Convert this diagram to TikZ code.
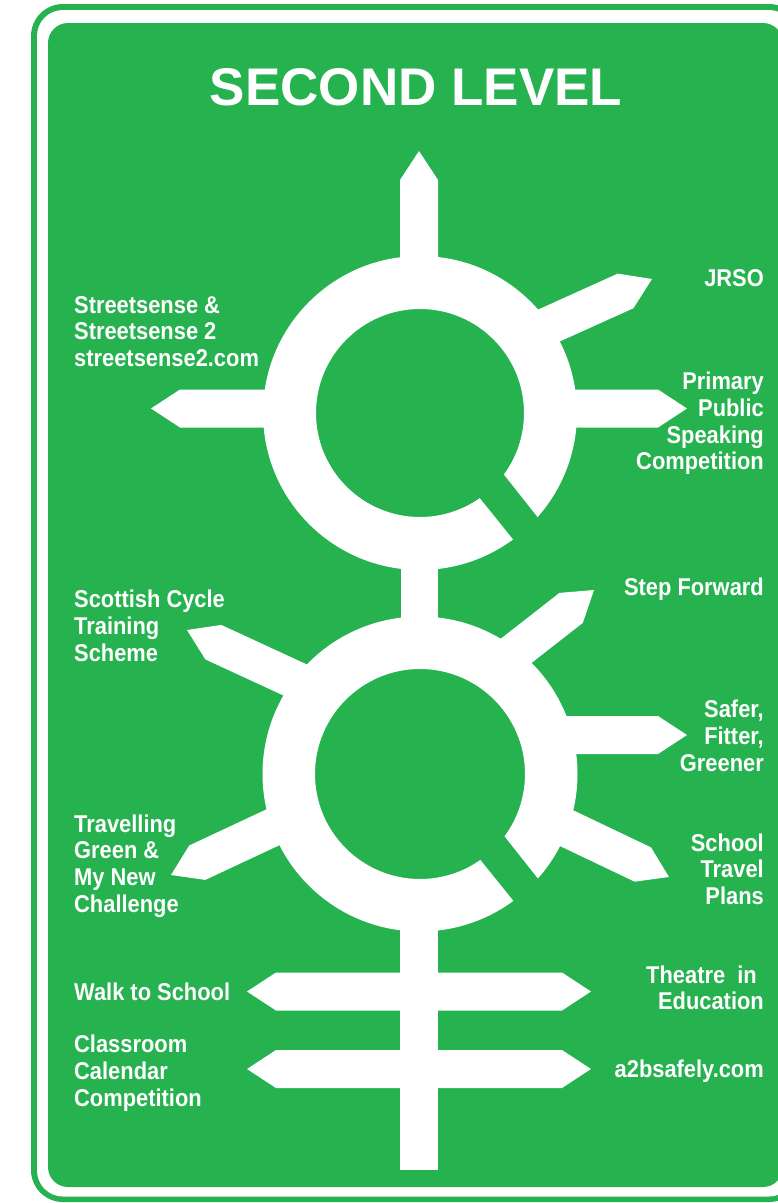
\documentclass[tikz,border=0pt]{standalone}
\usepackage{fontspec}
\newfontfamily\titlefont{Liberation Sans}
\newfontfamily\condfont{Liberation Sans}[FakeStretch=0.9]
\definecolor{signgreen}{RGB}{37,178,79}
\newcommand\roadarm[4]{\fill[white,shift={(#1,-#2)},rotate=#3] (0,0) -- (-29,19) -- (-#4,19) -- (-#4,-19) -- (-29,-19) -- cycle;}
\newcommand\twoway[1]{\fill[white] (247,-#1) -- (276,-#1+19) -- (562,-#1+19) -- (591,-#1) -- (562,-#1-19) -- (276,-#1-19) -- cycle;}
\newcommand\stack[2]{\begin{tabular}[t]{@{}#1@{}}#2\end{tabular}}
\begin{document}
\begin{tikzpicture}[x=1pt,y=1pt,
  lbl/.style={inner sep=0pt, text=white, font=\condfont\bfseries\fontsize{24.3}{26.8}\selectfont},
  lblleft/.style={lbl, anchor=base west},
  lblright/.style={lbl, anchor=base east},
  ring/.style={white, even odd rule},
  qtail/.style={signgreen}]
\useasboundingbox (0,0) rectangle (778,-1203);
\fill[white] (0,0) rectangle (778,-1203);
% sign border
\fill[signgreen, rounded corners=32pt] (31,-4) rectangle (801,-1202);
\fill[white, rounded corners=26pt] (37,-10) rectangle (795,-1196.5);
\fill[signgreen, rounded corners=20pt] (48,-23) rectangle (783,-1187);
% title
\node[inner sep=0pt, anchor=base, text=white, font=\titlefont\bfseries\fontsize{53}{60}\selectfont] (title) at (416,-105) {SECOND LEVEL};
% roundabouts
\fill[ring] (420,-413) circle (157) (420,-413) circle (104);
\fill[ring] (420,-774) circle (157.5) (420,-774) circle (105);
% stems
\fill[white] (401,-540) rectangle (438,-650);
\fill[white] (400,-890) rectangle (438,-1170);
% upper roundabout arms
\roadarm{419}{151}{90}{130}
\roadarm{652}{279}{24.3}{140}
\roadarm{151}{408.5}{180}{140}
\roadarm{687}{408.5}{0}{140}
% lower roundabout arms
\roadarm{187}{630}{155.2}{140}
\roadarm{171}{875}{205.1}{140}
\roadarm{594}{590}{38}{135}
\roadarm{687}{735}{0}{140}
\roadarm{669}{877}{-25.5}{140}
% finger posts
\twoway{991.5}
\twoway{1069}
% Q tails cutting the rings
\fill[qtail, shift={(420,-413)}] (50,-19) -- (122.5,-110.5) -- (98.5,-133) -- (26,-43) -- cycle;
\fill[qtail, shift={(420,-774)}] (50,-19) -- (122.5,-110.5) -- (98.5,-133) -- (26,-43) -- cycle;
% labels
\node[lblleft] (streetsense) at (74,-313) {\stack{l}{Streetsense \&\\Streetsense 2\\streetsense2.com}};
\node[lblright] (jrso) at (764,-286) {JRSO};
\node[lblright] (primary) at (764,-389.5) {\stack{r}{Primary\\Public\\Speaking\\Competition}};
\node[lblleft] (scottish) at (74,-607.5) {\stack{l}{Scottish Cycle\\Training\\Scheme}};
\node[lblright] (step) at (764,-595) {Step Forward};
\node[lblright] (safer) at (764,-717.5) {\stack{r}{Safer,\\Fitter,\\Greener}};
\node[lblleft] (travelling) at (74,-832) {\stack{l}{Travelling\\Green \&\\My New\\Challenge}};
\node[lblright] (school) at (764,-851) {\stack{r}{School\\Travel\\Plans}};
\node[lblleft] (walk) at (74,-1000) {Walk to School};
\node[lblright] (theatre) at (764,-983) {\stack{r}{Theatre\ \ in\kern7pt\\Education}};
\node[lblleft] (classroom) at (74,-1052.5) {\stack{l}{Classroom\\Calendar\\Competition}};
\node[lblright] (a2b) at (764,-1077) {a2bsafely.com};
\end{tikzpicture}
\end{document}
